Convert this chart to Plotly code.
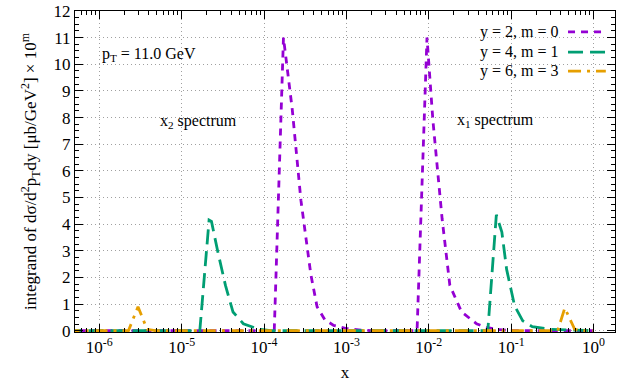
import plotly.graph_objects as go

# ---------------- data ----------------
x_m0 = [4e-7, 1e-6, 1e-5, 1e-4, 1.33e-4, 1.72e-4, 2.2e-4, 2.8e-4, 3.7e-4, 4.4e-4, 5.5e-4,
        7e-4, 1e-3, 1.5e-3, 2e-3, 5e-3, 7.2e-3, 9.5e-3, 1.12e-2, 1.45e-2, 1.8e-2,
        2.5e-2, 3.8e-2, 5e-2, 7e-2, 0.1, 1.0]
y_m0 = [0, 0, 0, 0, 0, 11.0, 8.3, 4.9, 2.1, 0.9, 0.4,
        0.2, 0.08, 0.02, 0, 0, 0, 11.0, 7.9, 4.2, 1.7,
        0.7, 0.26, 0.12, 0.04, 0, 0]

x_m1 = [4e-7, 1e-6, 1e-5, 1.66e-5, 2.15e-5, 2.3e-5, 2.75e-5, 3.4e-5, 4.2e-5, 5.6e-5,
        8.3e-5, 1.2e-4, 1e-3, 1e-2, 5.2e-2, 6.6e-2, 7.7e-2, 8.8e-2, 0.11, 0.138,
        0.18, 0.3, 1.0]
y_m1 = [0, 0, 0, 0, 4.15, 4.1, 2.95, 1.7, 0.7, 0.26,
        0.07, 0, 0, 0, 0, 4.35, 3.7, 2.3, 0.93, 0.37,
        0.15, 0.05, 0]

x_m3 = [4e-7, 1e-6, 2.26e-6, 2.95e-6, 3.8e-6, 4.8e-6, 1e-5, 1e-3, 0.367, 0.447,
        0.59, 0.7, 1.0]
y_m3 = [0, 0, 0, 0.9, 0.05, 0, 0, 0, 0, 0.85,
        0.05, 0, 0]

series_names = ["y = 2, m = 0", "y = 4, m = 1", "y = 6, m = 3"]
series_x = [x_m0, x_m1, x_m3]
series_y = [y_m0, y_m1, y_m3]
colors = ["#9400D3", "#009E73", "#E69F00"]
dashes = ["7px,6px", "15px,7px", "13px,6px,3px,6px"]

xtick_vals = [1e-6, 1e-5, 1e-4, 1e-3, 1e-2, 1e-1, 1e0]
xtick_text = ["10<sup>-6</sup>", "10<sup>-5</sup>", "10<sup>-4</sup>", "10<sup>-3</sup>",
              "10<sup>-2</sup>", "10<sup>-1</sup>", "10<sup>0</sup>"]
ytick_vals = list(range(0, 13))

FONT = "Liberation Serif"

fig = go.Figure()
for name, xs, ys, c, d in zip(series_names, series_x, series_y, colors, dashes):
    fig.add_trace(go.Scatter(x=xs, y=ys, mode="lines", name=name,
                             line=dict(color=c, width=2.8, dash=d),
                             showlegend=False))

# custom legend (text at left, line sample at right, as in gnuplot)
leg_y = [0.935, 0.872, 0.813]
for name, c, d, yy in zip(series_names, colors, dashes, leg_y):
    fig.add_annotation(xref="paper", yref="paper", x=0.9, y=yy, text=name,
                       showarrow=False, xanchor="right", yanchor="middle",
                       font=dict(family=FONT, size=16, color="black"))
    fig.add_shape(type="line", xref="paper", yref="paper", x0=0.913, x1=0.983,
                  y0=yy, y1=yy, line=dict(color=c, width=2.8, dash=d))

fig.add_annotation(xref="paper", yref="paper", x=0.046, y=0.863,
                   text="p<sub>T</sub> = 11.0 GeV", showarrow=False,
                   xanchor="left", yanchor="middle",
                   font=dict(family=FONT, size=16, color="black"))
fig.add_annotation(xref="paper", yref="paper", x=0.154, y=0.657,
                   text="x<sub>2</sub> spectrum", showarrow=False,
                   xanchor="left", yanchor="middle",
                   font=dict(family=FONT, size=16, color="black"))
fig.add_annotation(xref="paper", yref="paper", x=0.704, y=0.66,
                   text="x<sub>1</sub> spectrum", showarrow=False,
                   xanchor="left", yanchor="middle",
                   font=dict(family=FONT, size=16, color="black"))

fig.update_layout(
    width=622, height=382,
    margin=dict(l=75, r=7, t=11, b=50, autoexpand=False),
    paper_bgcolor="white", plot_bgcolor="white",
    font=dict(family=FONT, size=16, color="black"),
    showlegend=False,
)
fig.update_xaxes(
    type="log", range=[-6.295, 0.26], automargin=False,
    tickvals=xtick_vals, ticktext=xtick_text,
    ticks="inside", ticklen=8, tickwidth=1, tickcolor="black",
    showline=True, linecolor="black", linewidth=1, mirror="allticks",
    showgrid=True, gridcolor="#a0a0a0", griddash="1px,3px", gridwidth=1,
    zeroline=False,
    minor=dict(ticks="inside", ticklen=4, tickcolor="black", dtick="D1", showgrid=False),
    title=dict(text="x", font=dict(family=FONT, size=17), standoff=9),
    tickfont=dict(family=FONT, size=17),
)
fig.update_yaxes(
    range=[-0.05, 12], automargin=False,
    tickvals=ytick_vals,
    ticks="inside", ticklen=8, tickwidth=1, tickcolor="black",
    showline=True, linecolor="black", linewidth=1, mirror="allticks",
    showgrid=True, gridcolor="#a0a0a0", griddash="1px,3px", gridwidth=1,
    zeroline=False,
    minor=dict(ticks="inside", ticklen=4, tickcolor="black", dtick=0.25, showgrid=False),
    title=dict(text="integrand of d\u03c3/d<sup>2</sup>p<sub>T</sub>dy [\u03bcb/GeV<sup>2</sup>] \u00d7 10<sup>m</sup>",
               font=dict(family=FONT, size=17), standoff=12),
    tickfont=dict(family=FONT, size=17),
)

fig.write_html("out.html", config={"displayModeBar": False},
               post_script="document.body.style.margin='0px';")
